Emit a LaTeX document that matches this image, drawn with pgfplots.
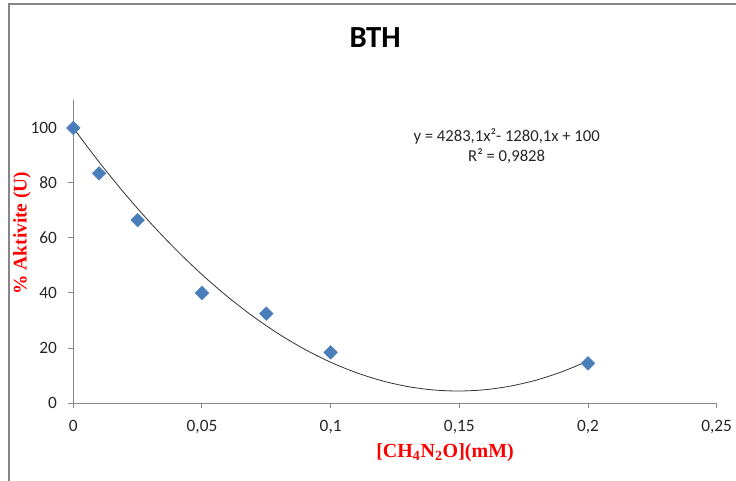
\documentclass[border=0pt]{standalone}
\usepackage{fontspec}
\setmainfont{Carlito}
\newfontfamily\timesfont{Liberation Serif}
\usepackage{pgfplots}
\pgfplotsset{compat=1.18}
\definecolor{axisgray}{HTML}{868686}
\definecolor{markblue}{HTML}{4A7EBB}
\begin{document}
\begin{tikzpicture}
\useasboundingbox (-55pt,-57.75pt) rectangle (497pt,302.25pt);
% chart area frame (only left and top edges show)
\draw[axisgray, line width=1.1pt] (-48.2pt,-80pt) -- (-48.2pt,299.25pt) -- (520pt,299.25pt);
\begin{axis}[
    scale only axis,
    width=482.5pt, height=226.9pt,
    xmin=0, xmax=0.25,
    ymin=0, ymax=110,
    axis lines*=left,
    axis line style={axisgray, line width=0.75pt},
    xtick={0,0.05,0.1,0.15,0.2,0.25},
    ytick={0,20,40,60,80,100},
    tick align=outside,
    major tick length=3.75pt,
    tick style={axisgray, line width=0.75pt},
    scaled x ticks=false,
    xticklabel style={yshift=-5.5pt, /pgf/number format/.cd, fixed, use comma, precision=2},
    yticklabel style={xshift=-5pt},
    ticklabel style={font=\fontsize{13}{15}\selectfont, text=black!85},
    /pgf/number format/assume math mode=true,
    clip=false,
]
\addplot[only marks, mark=square*, mark size=3.6pt,
    mark options={rotate=45, fill=markblue, draw=markblue}]
coordinates {
(0,100) (0.01,83.5) (0.025,66.5) (0.05,40) (0.075,32.5) (0.1,18.4) (0.2,14.4)
};
% polynomial trendline
\addplot[black!80, line width=0.6pt, smooth]
coordinates {
(0,100) (0.01,87.63) (0.02,76.11) (0.03,65.45) (0.04,55.65) (0.05,46.70)
(0.06,38.61) (0.07,31.38) (0.08,25.00) (0.09,19.48) (0.10,14.82)
(0.11,11.02) (0.12,8.07) (0.13,5.97) (0.14,4.74) (0.15,4.36)
(0.16,4.83) (0.17,6.17) (0.18,8.35) (0.19,11.40) (0.20,15.30)
};
\end{axis}
\node[font=\fontsize{23}{26}\selectfont\bfseries] at (226.3pt,273.75pt) {BTH};
\node[align=center, font=\fontsize{12.5}{15}\selectfont, text=black!85] at (325pt,192.75pt)
    {y = 4283,1x²- 1280,1x + 100\\R² = 0,9828};
\node[rotate=90, font=\timesfont\bfseries\fontsize{14.5}{16}\selectfont, text=red]
    at (-38.5pt,127.5pt) {\% Aktivite (U)};
\node[font=\timesfont\bfseries\fontsize{15}{17}\selectfont, text=red]
    at (278.8pt,-37.5pt) {[CH\textsubscript{4}N\textsubscript{2}O](mM)};
\end{tikzpicture}
\end{document}
